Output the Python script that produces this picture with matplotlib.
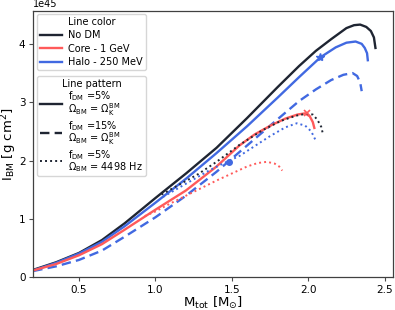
import matplotlib
matplotlib.use("Agg")
import matplotlib.pyplot as plt
from matplotlib.lines import Line2D
import numpy as np

# ---------------- data (M in Msun, I in 1e45 g cm^2) ----------------
nodm_kep_M = [0.20, 0.35, 0.50, 0.65, 0.80, 1.00, 1.20, 1.40, 1.60, 1.80, 1.94, 2.05, 2.15, 2.25, 2.30, 2.34, 2.38, 2.41, 2.43, 2.44]
nodm_kep_I = [0.13, 0.26, 0.42, 0.64, 0.93, 1.36, 1.78, 2.22, 2.73, 3.26, 3.62, 3.88, 4.08, 4.27, 4.32, 4.33, 4.29, 4.22, 4.11, 3.93]

halo5_kep_M = [0.20, 0.35, 0.50, 0.65, 0.80, 1.00, 1.20, 1.40, 1.60, 1.80, 1.94, 2.08, 2.18, 2.25, 2.31, 2.35, 2.37, 2.385, 2.39]
halo5_kep_I = [0.12, 0.25, 0.41, 0.61, 0.88, 1.28, 1.69, 2.13, 2.59, 3.08, 3.43, 3.77, 3.94, 4.02, 4.04, 4.00, 3.93, 3.84, 3.72]

halo15_kep_M = [0.20, 0.35, 0.50, 0.65, 0.80, 1.00, 1.20, 1.40, 1.60, 1.80, 1.94, 2.05, 2.15, 2.23, 2.29, 2.32, 2.34, 2.35]
halo15_kep_I = [0.11, 0.19, 0.30, 0.46, 0.70, 1.03, 1.40, 1.81, 2.26, 2.71, 3.02, 3.22, 3.38, 3.47, 3.50, 3.45, 3.34, 3.19]

core5_kep_M = [0.20, 0.35, 0.50, 0.65, 0.80, 1.00, 1.20, 1.40, 1.55, 1.65, 1.76, 1.85, 1.93, 1.98, 2.01, 2.03, 2.04]
core5_kep_I = [0.12, 0.23, 0.38, 0.57, 0.82, 1.16, 1.49, 1.90, 2.26, 2.45, 2.61, 2.72, 2.79, 2.81, 2.76, 2.66, 2.56]

nodm_f_M = [1.04, 1.15, 1.28, 1.40, 1.55, 1.70, 1.82, 1.92, 1.98, 2.03, 2.06, 2.085, 2.095]
nodm_f_I = [1.42, 1.58, 1.77, 1.98, 2.27, 2.52, 2.68, 2.77, 2.80, 2.79, 2.70, 2.58, 2.47]

halo5_f_M = [1.05, 1.15, 1.25, 1.35, 1.45, 1.55, 1.65, 1.75, 1.85, 1.925, 1.98, 2.02, 2.05]
halo5_f_I = [1.38, 1.53, 1.68, 1.83, 1.96, 2.08, 2.25, 2.42, 2.57, 2.64, 2.60, 2.50, 2.34]

core5_f_M = [0.93, 1.00, 1.10, 1.20, 1.30, 1.40, 1.50, 1.60, 1.67, 1.73, 1.78, 1.81, 1.83]
core5_f_I = [1.05, 1.13, 1.27, 1.40, 1.53, 1.66, 1.78, 1.90, 1.96, 1.98, 1.95, 1.90, 1.83]

# markers
star_M, star_I = [2.08], [3.77]
cross_M, cross_I = [1.99], [2.81]
dot_M, dot_I = [1.48], [1.98]

color_labels = ["No DM", "Core - 1 GeV", "Halo - 250 MeV"]
pattern_labels = [
    r"$\mathrm{f_{DM}}$ =5%" "\n" r"$\Omega_{\mathrm{BM}}$ = $\Omega_{\mathrm{K}}^{\mathrm{BM}}$",
    r"$\mathrm{f_{DM}}$ =15%" "\n" r"$\Omega_{\mathrm{BM}}$ = $\Omega_{\mathrm{K}}^{\mathrm{BM}}$",
    r"$\mathrm{f_{DM}}$ =5%" "\n" r"$\Omega_{\mathrm{BM}}$ = 4498 Hz",
]

BLACK = "#1f2532"
RED = "#ff5a5a"
BLUE = "#4169e1"
scale = 1e45

fig = plt.figure(figsize=(3.95, 3.10), dpi=100)
ax = fig.add_axes([0.084, 0.105, 0.911, 0.859])

lw = 1.7
ax.plot(nodm_kep_M, np.array(nodm_kep_I) * scale, color=BLACK, lw=lw, ls="-")
ax.plot(halo5_kep_M, np.array(halo5_kep_I) * scale, color=BLUE, lw=lw, ls="-")
ax.plot(halo15_kep_M, np.array(halo15_kep_I) * scale, color=BLUE, lw=lw, ls=(0, (4, 2.2)))
ax.plot(core5_kep_M, np.array(core5_kep_I) * scale, color=RED, lw=lw, ls="-")
ax.plot(nodm_f_M, np.array(nodm_f_I) * scale, color=BLACK, lw=1.4, ls=(0, (1, 1.6)))
ax.plot(halo5_f_M, np.array(halo5_f_I) * scale, color=BLUE, lw=1.4, ls=(0, (1, 1.6)))
ax.plot(core5_f_M, np.array(core5_f_I) * scale, color=RED, lw=1.4, ls=(0, (1, 1.6)))

ax.plot(star_M, np.array(star_I) * scale, marker="*", color=BLUE, ms=6, ls="none")
ax.plot(cross_M, np.array(cross_I) * scale, marker="x", color=RED, ms=5, mew=1.2, ls="none")
ax.plot(dot_M, np.array(dot_I) * scale, marker="o", color=BLUE, ms=4, ls="none")

ax.set_xlim(0.2, 2.555)
ax.set_ylim(0, 4.56e45)
ax.set_xticks([0.5, 1.0, 1.5, 2.0, 2.5])
ax.set_yticks(np.array([0, 1, 2, 3, 4]) * scale)
ax.tick_params(labelsize=7.5, length=3, width=0.8, color="0.3", pad=2.5)
ax.yaxis.get_offset_text().set_fontsize(7)
for s in ax.spines.values():
    s.set_color("0.25")
    s.set_linewidth(0.9)

ax.set_xlabel(r"$\mathrm{M_{tot}}$ [$\mathrm{M_{\odot}}$]", fontsize=9.5, labelpad=0)
ax.set_ylabel(r"$\mathrm{I_{BM}}$ [g cm$^2$]", fontsize=9.5, labelpad=0)

h1 = [Line2D([], [], color=c, lw=1.7) for c in (BLACK, RED, BLUE)]
leg1 = ax.legend(h1, color_labels, title="Line color", loc="upper left",
                 bbox_to_anchor=(0.011, 0.989), borderaxespad=0, fontsize=7, title_fontsize=7,
                 handlelength=2.3, labelspacing=0.35, borderpad=0.3, handletextpad=0.6,
                 frameon=True)
ax.add_artist(leg1)
h2 = [Line2D([], [], color=BLACK, lw=1.7, ls="-"),
      Line2D([], [], color=BLACK, lw=1.7, ls=(0, (4, 2.2))),
      Line2D([], [], color=BLACK, lw=1.4, ls=(0, (1, 1.6)))]
leg2 = ax.legend(h2, pattern_labels, title="Line pattern", loc="upper left",
                 bbox_to_anchor=(0.011, 0.758), borderaxespad=0, fontsize=7, title_fontsize=7,
                 handlelength=2.3, labelspacing=0.1, borderpad=0.3, handletextpad=0.6,
                 frameon=True)
for t in leg2.get_texts():
    t.set_linespacing(0.8)

fig.savefig("out.png", dpi=100)
